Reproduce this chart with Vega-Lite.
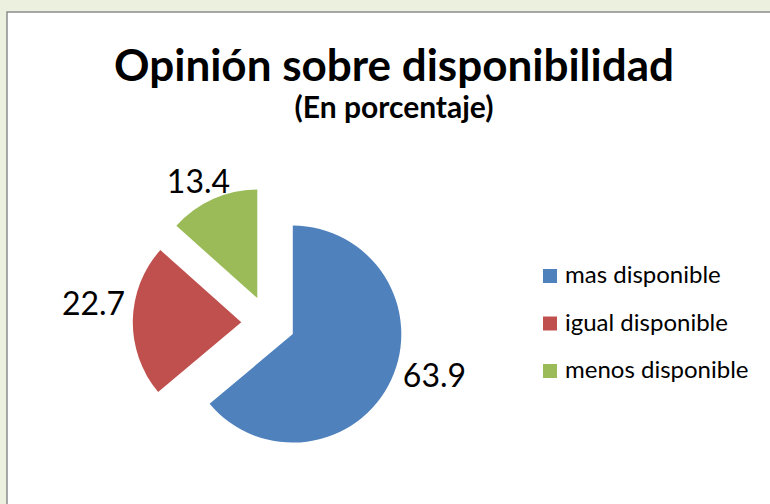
{
  "$schema": "https://vega.github.io/schema/vega-lite/v6.json",
  "width": 766,
  "height": 495,
  "autosize": {"type": "none"},
  "padding": {"left": 7, "top": 12, "right": -3, "bottom": -3},
  "background": "#EBF1DE",
  "view": {"fill": "white", "stroke": "#8C8C8C", "strokeWidth": 1.5},
  "config": {
    "view": {"fill": "white", "stroke": "#8C8C8C", "strokeWidth": 1.5},
    "font": "Lato",
    "legend": {
      "orient": "none",
      "legendX": 531,
      "legendY": 252,
      "symbolType": "square",
      "symbolSize": 196,
      "symbolStrokeWidth": 0,
      "labelFontSize": 24,
      "labelFont": "Lato",
      "labelColor": "black",
      "labelOffset": 3,
      "labelLimit": 0,
      "rowPadding": 23.5,
      "padding": 0
    }
  },
  "title": {
    "text": "Opinión sobre disponibilidad",
    "subtitle": "(En porcentaje)",
    "anchor": "middle",
    "orient": "top",
    "font": "Lato",
    "fontSize": 44,
    "fontWeight": "bold",
    "color": "black",
    "subtitleFont": "Lato",
    "subtitleFontSize": 30,
    "subtitleFontWeight": "bold",
    "subtitleColor": "black",
    "subtitlePadding": 4,
    "offset": -112,
    "dx": 4
  },
  "data": {
    "values": [
      {"cat": "mas disponible", "value": 63.9},
      {"cat": "igual disponible", "value": 22.7},
      {"cat": "menos disponible", "value": 13.4}
    ]
  },
  "transform": [
    {"stack": "value", "groupby": [], "as": ["v0", "v1"]},
    {"calculate": "(datum.v0 + datum.v1) / 2", "as": "mid"}
  ],
  "layer": [
    {
      "transform": [{"filter": "datum.cat === 'mas disponible'"}],
      "mark": {"type": "arc", "outerRadius": 108.5, "xOffset": -97.2, "yOffset": 74.6},
      "encoding": {
        "theta": {"field": "v0", "type": "quantitative", "scale": {"domain": [0, 100]}},
        "theta2": {"field": "v1"},
        "color": {
          "field": "cat",
          "type": "nominal",
          "scale": {"domain": ["mas disponible", "igual disponible", "menos disponible"], "range": ["#4F81BD", "#C0504D", "#9BBB59"]},
          "legend": {"title": null}
        }
      }
    },
    {
      "transform": [{"filter": "datum.cat === 'igual disponible'"}],
      "mark": {"type": "arc", "outerRadius": 108.5, "xOffset": -148.7, "yOffset": 62.8},
      "encoding": {
        "theta": {"field": "v0", "type": "quantitative", "scale": {"domain": [0, 100]}},
        "theta2": {"field": "v1"},
        "color": {"field": "cat", "type": "nominal"}
      }
    },
    {
      "transform": [{"filter": "datum.cat === 'menos disponible'"}],
      "mark": {"type": "arc", "outerRadius": 108.5, "xOffset": -132.7, "yOffset": 38.6},
      "encoding": {
        "theta": {"field": "v0", "type": "quantitative", "scale": {"domain": [0, 100]}},
        "theta2": {"field": "v1"},
        "color": {"field": "cat", "type": "nominal"}
      }
    },
    {
      "transform": [{"filter": "datum.cat === 'mas disponible'"}],
      "mark": {"type": "text", "radius": 140, "xOffset": -97.2, "yOffset": 74.6, "dx": 14.8, "dy": -6.3, "fontSize": 32, "font": "Lato", "baseline": "alphabetic", "align": "center", "color": "black"},
      "encoding": {
        "theta": {"field": "mid", "type": "quantitative", "scale": {"domain": [0, 100]}},
        "text": {"field": "value", "type": "quantitative", "format": ".1f"}
      }
    },
    {
      "transform": [{"filter": "datum.cat === 'igual disponible'"}],
      "mark": {"type": "text", "radius": 140, "xOffset": -148.7, "yOffset": 62.8, "dx": -7.8, "dy": -5.1, "fontSize": 32, "font": "Lato", "baseline": "alphabetic", "align": "center", "color": "black"},
      "encoding": {
        "theta": {"field": "mid", "type": "quantitative", "scale": {"domain": [0, 100]}},
        "text": {"field": "value", "type": "quantitative", "format": ".1f"}
      }
    },
    {
      "transform": [{"filter": "datum.cat === 'menos disponible'"}],
      "mark": {"type": "text", "radius": 120, "xOffset": -132.7, "yOffset": 38.6, "dx": -9.8, "dy": 4.4, "fontSize": 32, "font": "Lato", "baseline": "alphabetic", "align": "center", "color": "black"},
      "encoding": {
        "theta": {"field": "mid", "type": "quantitative", "scale": {"domain": [0, 100]}},
        "text": {"field": "value", "type": "quantitative", "format": ".1f"}
      }
    }
  ]
}
